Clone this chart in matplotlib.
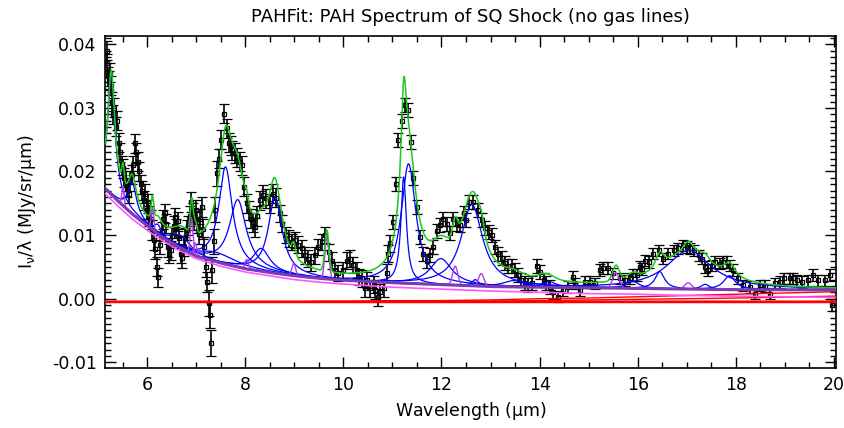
import numpy as np
import matplotlib
matplotlib.use('Agg')
import matplotlib.pyplot as plt
from matplotlib.ticker import MultipleLocator, FormatStrFormatter

#%% data
wave = [5.18, 5.19, 5.20, 5.22, 5.24, 5.26, 5.28, 5.30, 5.33, 5.36, 5.39, 5.42,
        5.45, 5.48, 5.51, 5.54, 5.57, 5.60, 5.63, 5.66, 5.69, 5.72, 5.75, 5.78,
        5.81, 5.84, 5.87, 5.90, 5.93, 5.96, 5.99, 6.02, 6.05, 6.08, 6.11, 6.14,
        6.17, 6.20, 6.23, 6.26, 6.30, 6.33, 6.36, 6.39, 6.42, 6.45, 6.48, 6.51,
        6.54, 6.57, 6.60, 6.63, 6.66, 6.69, 6.72, 6.75, 6.78, 6.81, 6.84, 6.87,
        6.90, 6.93, 6.96, 6.99, 7.02, 7.05, 7.08, 7.11, 7.14, 7.17, 7.20, 7.23,
        7.26, 7.28, 7.30, 7.33, 7.36, 7.39, 7.42, 7.46, 7.51, 7.56, 7.62, 7.67,
        7.71, 7.74, 7.79, 7.84, 7.89, 7.93, 7.98, 8.03, 8.07, 8.11, 8.16, 8.20,
        8.25, 8.30, 8.36, 8.43, 8.50, 8.57, 8.63, 8.70, 8.76, 8.84, 8.90, 8.96,
        9.02, 9.08, 9.15, 9.21, 9.28, 9.35, 9.42, 9.49, 9.56, 9.63, 9.70, 9.77,
        9.83, 9.90, 9.99, 10.07, 10.14, 10.20, 10.27, 10.31, 10.38, 10.45, 10.48, 10.55,
        10.62, 10.65, 10.71, 10.75, 10.82, 10.89, 10.92, 10.95, 11.01, 11.07, 11.12, 11.19,
        11.26, 11.31, 11.38, 11.43, 11.50, 11.56, 11.63, 11.70, 11.77, 11.83, 11.90, 11.97,
        12.04, 12.11, 12.17, 12.24, 12.31, 12.38, 12.45, 12.51, 12.57, 12.65, 12.75, 12.82,
        12.89, 12.96, 13.03, 13.09, 13.16, 13.23, 13.29, 13.35, 13.43, 13.50, 13.56, 13.63,
        13.70, 13.77, 13.84, 13.94, 14.01, 14.08, 14.14, 14.21, 14.28, 14.38, 14.48, 14.58,
        14.69, 14.72, 14.82, 14.92, 15.03, 15.13, 15.23, 15.30, 15.40, 15.50, 15.64, 15.74,
        15.84, 15.91, 15.98, 16.05, 16.08, 16.15, 16.22, 16.32, 16.43, 16.52, 16.62, 16.73,
        16.83, 16.93, 17.00, 17.07, 17.14, 17.24, 17.30, 17.37, 17.44, 17.51, 17.58, 17.67,
        17.74, 17.81, 17.88, 17.94, 18.05, 18.15, 18.29, 18.39, 18.49, 18.59, 18.70, 18.80,
        18.90, 18.99, 19.10, 19.17, 19.24, 19.34, 19.48, 19.58, 19.68, 19.82, 19.92, 19.95]
flux = [0.0390, 0.0370, 0.0350, 0.0343, 0.0355, 0.0335, 0.0310, 0.0290, 0.0300, 0.0270, 0.0280, 0.0245,
        0.0230, 0.0210, 0.0205, 0.0190, 0.0185, 0.0175, 0.0165, 0.0185, 0.0195, 0.0210, 0.0244, 0.0230,
        0.0215, 0.0200, 0.0180, 0.0170, 0.0155, 0.0165, 0.0140, 0.0150, 0.0130, 0.0125, 0.0108, 0.0092,
        0.0078, 0.0050, 0.0034, 0.0085, 0.0105, 0.0125, 0.0134, 0.0118, 0.0081, 0.0071, 0.0076, 0.0098,
        0.0115, 0.0128, 0.0111, 0.0122, 0.0095, 0.0071, 0.0064, 0.0082, 0.0096, 0.0108, 0.0115, 0.0130,
        0.0152, 0.0135, 0.0123, 0.0140, 0.0120, 0.0102, 0.0125, 0.0144, 0.0110, 0.0081, 0.0050, 0.0026,
        -0.0007, -0.0026, -0.0070, 0.0045, 0.0090, 0.0140, 0.0197, 0.0220, 0.0250, 0.0291, 0.0268, 0.0245,
        0.0241, 0.0233, 0.0229, 0.0222, 0.0215, 0.0210, 0.0176, 0.0150, 0.0138, 0.0126, 0.0120, 0.0112,
        0.0130, 0.0155, 0.0163, 0.0158, 0.0150, 0.0165, 0.0159, 0.0134, 0.0118, 0.0100, 0.0095, 0.0089,
        0.0092, 0.0085, 0.0079, 0.0068, 0.0063, 0.0057, 0.0068, 0.0081, 0.0089, 0.0100, 0.0073, 0.0060,
        0.0045, 0.0040, 0.0045, 0.0060, 0.0063, 0.0053, 0.0045, 0.0034, 0.0032, 0.0016, 0.0029, 0.0016,
        0.0022, 0.0013, 0.0002, 0.0010, 0.0016, 0.0041, 0.0071, 0.0087, 0.0120, 0.0181, 0.0249, 0.0280,
        0.0304, 0.0296, 0.0246, 0.0189, 0.0144, 0.0097, 0.0071, 0.0060, 0.0068, 0.0081, 0.0107, 0.0116,
        0.0126, 0.0118, 0.0104, 0.0126, 0.0118, 0.0116, 0.0134, 0.0123, 0.0152, 0.0152, 0.0139, 0.0123,
        0.0111, 0.0105, 0.0100, 0.0081, 0.0071, 0.0064, 0.0056, 0.0052, 0.0052, 0.0045, 0.0037, 0.0029,
        0.0024, 0.0021, 0.0024, 0.0052, 0.0042, 0.0029, 0.0024, 0.0018, 0.0011, 0.0003, 0.0013, 0.0018,
        0.0034, 0.0024, 0.0013, 0.0026, 0.0026, 0.0024, 0.0045, 0.0048, 0.0048, 0.0040, 0.0032, 0.0029,
        0.0032, 0.0037, 0.0037, 0.0050, 0.0047, 0.0060, 0.0058, 0.0071, 0.0076, 0.0063, 0.0071, 0.0076,
        0.0079, 0.0084, 0.0081, 0.0079, 0.0076, 0.0068, 0.0063, 0.0050, 0.0045, 0.0052, 0.0058, 0.0055,
        0.0058, 0.0058, 0.0052, 0.0045, 0.0032, 0.0021, 0.0018, 0.0008, 0.0021, 0.0020, 0.0008, 0.0024,
        0.0026, 0.0032, 0.0032, 0.0032, 0.0029, 0.0026, 0.0029, 0.0037, 0.0029, 0.0029, 0.0037, -0.0010]
err = ([0.0015]*64 + [0.0016]*8 + [0.0020]*7 + [0.0015]*24 + [0.0013]*37
       + [0.0011]*49 + [0.0009]*63)

# PAH (Drude) features: centre, fractional width, peak above continuum
pah_wave = [5.27, 5.70, 6.22, 6.69, 7.42, 7.60, 7.85, 8.33, 8.61, 11.23, 11.33, 11.99,
            12.62, 12.69, 13.48, 14.04, 14.19, 15.90, 16.45, 17.04, 17.375, 17.87]
pah_frac = [0.034, 0.035, 0.030, 0.070, 0.126, 0.044, 0.053, 0.050, 0.039, 0.012, 0.032, 0.045,
            0.042, 0.013, 0.040, 0.016, 0.025, 0.020, 0.014, 0.065, 0.012, 0.016]
pah_amp = [0.0190, 0.0050, 0.0015, 0.0020, 0.0015, 0.0153, 0.0106, 0.0036, 0.0120, 0.0167, 0.0188, 0.0041,
           0.0128, 0.0010, 0.0010, 0.0005, 0.0009, 0.0011, 0.0027, 0.0061, 0.0008, 0.0022]

# unresolved lines: centre, peak above continuum
line_wave = [5.51, 6.11, 6.91, 6.985, 8.03, 8.99, 9.665, 12.28, 12.81, 15.555, 17.03]
line_amp = [0.0030, 0.0035, 0.0055, 0.0020, 0.0015, 0.0019, 0.0065, 0.0030, 0.0020, 0.0024, 0.0010]

# continuum components, sampled
cont_wave = [5.15, 5.4, 5.7, 6.0, 6.3, 6.6, 7.0, 7.5, 8.0, 8.5, 9.0, 9.5, 10.0, 11.0, 12.0, 13.0,
             14.0, 15.0, 16.0, 17.0, 18.0, 20.04]
cont_tot = [0.0173, 0.0154, 0.0133, 0.0115, 0.0097, 0.0083, 0.0067, 0.0056, 0.0047, 0.0041, 0.0036,
            0.0032, 0.0029, 0.0025, 0.0022, 0.0019, 0.0018, 0.0017, 0.0016, 0.0015, 0.0014, 0.0014]
cont_hot = [0.0165, 0.0146, 0.0125, 0.0108, 0.0092, 0.0078, 0.0063, 0.0051, 0.0042, 0.0036, 0.0030,
            0.0026, 0.0023, 0.0018, 0.0015, 0.0012, 0.0010, 0.0008, 0.0007, 0.0005, 0.0004, 0.0002]
cont_cold = [-0.0005, -0.0005, -0.0005, -0.0005, -0.0005, -0.0005, -0.0005, -0.0005, -0.0005, -0.0005,
             -0.0005, -0.0004, -0.0004, -0.0003, -0.0003, -0.0002, 0.0000, 0.0001, 0.0003, 0.0005,
             0.0007, 0.0011]
cont_warm = [-0.0005]*13 + [-0.0005, -0.0004, -0.0004, -0.0003, -0.0002, -0.0001, 0.0000, 0.0001, 0.0004]
star_level = -0.0005

#%% model curves
lam = np.linspace(5.15, 20.04, 3000)
cont = np.interp(lam, cont_wave, cont_tot)

def drude(x, x0, g, b):
    return b*g**2/((x/x0 - x0/x)**2 + g**2)

def gline(x, x0, b):
    sig = x0/100./2.3548
    return b*np.exp(-0.5*((x - x0)/sig)**2)

pahs = [drude(lam, w, g, b) for w, g, b in zip(pah_wave, pah_frac, pah_amp)]
lines = [gline(lam, w, b) for w, b in zip(line_wave, line_amp)]
total = cont + np.sum(pahs, axis=0) + np.sum(lines, axis=0)

#%% plot
plt.rcParams.update({'font.family': 'DejaVu Sans', 'font.size': 12.5,
                     'mathtext.fontset': 'dejavusans', 'mathtext.default': 'regular'})
fig = plt.figure(figsize=(8.45, 4.28), dpi=100)
ax = fig.add_axes([0.1243, 0.1402, 0.8650, 0.7757])

ax.errorbar(wave, flux, yerr=err, fmt='s', ms=3.2, mfc='none', mec='black', mew=0.9,
            ecolor='black', elinewidth=1.2, capsize=3.5, capthick=1.2, zorder=2)

ax.plot(lam, np.full_like(lam, star_level), c='red', lw=2.0, zorder=3)
ax.plot(cont_wave, cont_cold, c='red', lw=1.0, zorder=3)
ax.plot(cont_wave, cont_warm, c='red', lw=1.0, zorder=3)
ax.plot(cont_wave, cont_hot, c='#ff55ff', lw=1.2, zorder=3)
for p in pahs:
    ax.plot(lam, cont + p, c='blue', lw=0.9, zorder=4)
for l in lines:
    ax.plot(lam, cont + l, c='#b43cf0', lw=1.0, zorder=4)
ax.plot(lam, cont, c='#7a3cb4', lw=2.2, zorder=5)
ax.plot(lam, total, c='#1ec81e', lw=1.1, zorder=6)

ax.set_xlim(5.144, 20.04)
ax.set_ylim(-0.0109, 0.0413)
ax.xaxis.set_major_locator(MultipleLocator(2))
ax.xaxis.set_minor_locator(MultipleLocator(0.5))
ax.yaxis.set_major_locator(MultipleLocator(0.01))
ax.yaxis.set_minor_locator(MultipleLocator(0.001))
ax.yaxis.set_major_formatter(FormatStrFormatter('%.2f'))
ax.tick_params(which='both', direction='in', top=True, right=True, width=1.0)
ax.tick_params(which='major', length=8, pad=6)
ax.tick_params(which='minor', length=4)
for s in ax.spines.values():
    s.set_linewidth(1.2)

ax.set_title('PAHFit: PAH Spectrum of SQ Shock (no gas lines)', fontsize=13, pad=10)
ax.set_xlabel(r'Wavelength ($\mu$m)')
ax.set_ylabel(r'I$_{\nu}$/$\lambda$ (MJy/sr/$\mu$m)', labelpad=10)

fig.savefig('out.png', dpi=100)
